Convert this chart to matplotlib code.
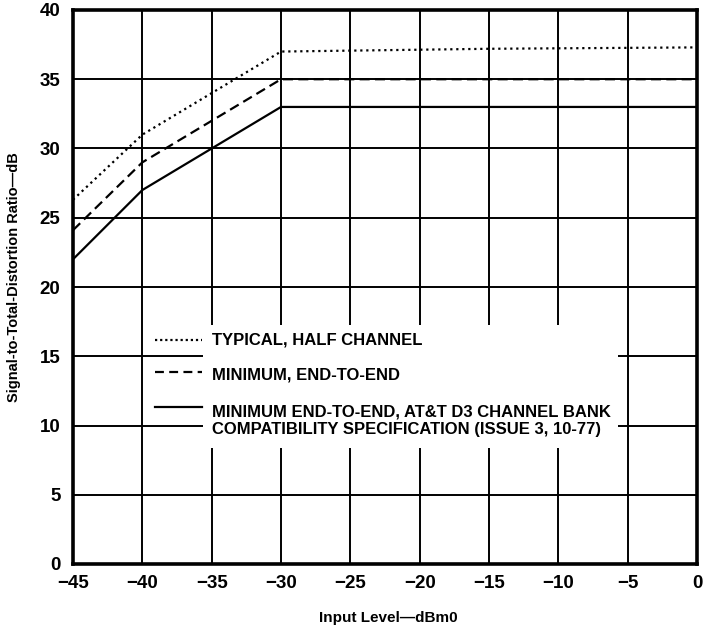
import matplotlib
matplotlib.use("Agg")
import matplotlib.pyplot as plt
from matplotlib.lines import Line2D
from matplotlib.patches import Rectangle

plt.rcParams["font.family"] = ["Liberation Sans", "DejaVu Sans"]
plt.rcParams["font.weight"] = "bold"

# Input level (dBm0) and signal-to-total-distortion ratio (dB)
typical_x = [-45, -40, -30, -15, 0]
typical_y = [26.3, 31.0, 37.0, 37.2, 37.3]

minimum_x = [-45, -40, -30, 0]
minimum_y = [24.1, 29.0, 35.0, 35.0]

spec_x = [-45, -40, -35, -30, 0]
spec_y = [22.0, 27.0, 30.0, 33.0, 33.0]

labels = [
    "TYPICAL, HALF CHANNEL",
    "MINIMUM, END-TO-END",
    "MINIMUM END-TO-END, AT&T D3 CHANNEL BANK\nCOMPATIBILITY SPECIFICATION (ISSUE 3, 10-77)",
]

x_ticks = list(range(-45, 1, 5))
y_ticks = list(range(0, 41, 5))
x_tick_labels = ["\u2212" + str(abs(v)) if v < 0 else str(v) for v in x_ticks]

fig = plt.figure(figsize=(7.03, 6.29), dpi=100)
ax = fig.add_axes([73 / 703, 1 - 564 / 629, 624 / 703, 554 / 629])

ax.set_xlim(-45, 0)
ax.set_ylim(0, 40)
ax.set_xticks(x_ticks)
ax.set_xticklabels(x_tick_labels)
ax.set_yticks(y_ticks)
ax.tick_params(length=0, labelsize=13.5)
ax.tick_params(axis="x", pad=8)
ax.tick_params(axis="y", pad=9)
for lbl in ax.get_xticklabels() + ax.get_yticklabels():
    lbl.set_fontweight("bold")

ax.set_axisbelow(True)
ax.grid(True, color="black", linewidth=1.4)
for s in ax.spines.values():
    s.set_linewidth(2.6)

lw = 1.6
styles = [(0, (1, 1.7)), (0, (4.5, 2.4)), "-"]
series = [(typical_x, typical_y), (minimum_x, minimum_y), (spec_x, spec_y)]
for (xs, ys), ls in zip(series, styles):
    ax.plot(xs, ys, color="black", linewidth=lw, linestyle=ls, zorder=2)

# white panel behind the key, hiding the grid
ax.add_patch(Rectangle((-35.6, 8.4), 29.9, 8.85, facecolor="white",
                       edgecolor="none", zorder=1))

# key entries: handle height, text centre
handle_rows = [0.404, 0.347, 0.283]
text_rows = [0.404, 0.342, 0.259]
key_styles = [(0, (1, 1.3)), (0, (4.0, 2.4)), "-"]
for ls, label, hy, ty in zip(key_styles, labels, handle_rows, text_rows):
    ax.add_line(Line2D([0.131, 0.207], [hy, hy], transform=ax.transAxes,
                       color="black", linewidth=lw, linestyle=ls, zorder=3))
    ax.text(0.223, ty, label, transform=ax.transAxes, fontsize=12,
            fontweight="bold", va="center", ha="left", linespacing=1.2,
            zorder=3)

ax.set_xlabel("Input Level\u2014dBm0", fontsize=11, fontweight="bold")
ax.xaxis.set_label_coords(0.506, -0.085)
ax.set_ylabel("Signal-to-Total-Distortion Ratio\u2014dB", fontsize=10.5,
              fontweight="bold")
ax.yaxis.set_label_coords(-0.084, 0.518)

fig.savefig("out.png", dpi=100)
